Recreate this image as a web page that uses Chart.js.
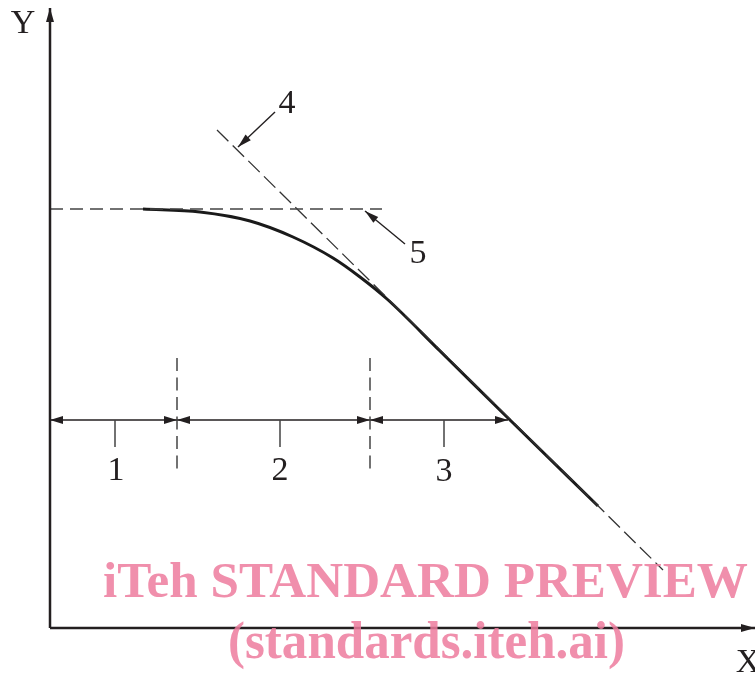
<!DOCTYPE html>
<html>
<head>
<meta charset="utf-8">
<script src="https://cdn.jsdelivr.net/npm/chart.js@4"></script>
<style>
  html, body { margin: 0; padding: 0; background: #fff; }
  #wrap { width: 755px; height: 676px; }
</style>
</head>
<body>
<div id="wrap"><canvas id="chart" width="755" height="676"></canvas></div>
<script>
// Data (arbitrary units, origin at the axes corner)
const curveX = [93, 150, 200, 243, 283, 310, 337, 390, 460, 548];
const curveY = [419, 416, 407, 391, 370, 351, 329, 277, 208, 122];

const tangentX = [167, 613];          // line 4
const tangentY = [498, 58];
const plateauX = [0, 332];            // line 5
const plateauY = [419, 419];

const boundX = [127, 320];            // region boundaries
const boundY = [270, 155];

const dimY = 208;                     // dimension line level
const dimX = [0, 127, 320, 458];      // region 1 | 2 | 3
const tickX = [65, 230, 394];
const tickY = [208, 181];

const leader4 = { x: [225, 188], y: [516, 481] };
const leader5 = { x: [355, 315], y: [384, 417] };

const axisXMax = 705;
const axisYMax = 620;

const labels = [
  { text: 'Y', x: -27, y: 595 },
  { text: '4', x: 237, y: 515 },
  { text: '5', x: 368, y: 365 },
  { text: '1', x: 66, y: 148 },
  { text: '2', x: 230, y: 148 },
  { text: '3', x: 394, y: 147 },
  { text: 'X', x: 698, y: -44 }
];

const INK = '#231f20';

function pts(xs, ys) {
  return xs.map((x, i) => ({ x: x, y: ys[i] }));
}

function lineSet(data, opts) {
  return Object.assign({
    data: data,
    borderColor: INK,
    borderWidth: 1.5,
    pointRadius: 0,
    fill: false,
    clip: false,
    tension: 0
  }, opts);
}

const datasets = [
  // axes
  lineSet(pts([0, 0], [0, axisYMax]), { borderWidth: 2.5, arrows: 'end', arrowLen: 14, arrowHalf: 4 }),
  lineSet(pts([0, axisXMax], [0, 0]), { borderWidth: 2.5, arrows: 'end', arrowLen: 14, arrowHalf: 4 }),
  // dashed construction lines
  lineSet(pts(plateauX, plateauY), { borderColor: '#444', borderWidth: 1.6, borderDash: [13, 7] }),
  lineSet(pts(tangentX, tangentY), { borderColor: '#333', borderWidth: 1.3, borderDash: [16, 6] }),
  lineSet(pts([boundX[0], boundX[0]], boundY), { borderColor: '#444', borderWidth: 1.5, borderDash: [13, 6.5] }),
  lineSet(pts([boundX[1], boundX[1]], boundY), { borderColor: '#444', borderWidth: 1.5, borderDash: [13, 6.5] }),
  // curve
  lineSet(pts(curveX, curveY), { borderColor: '#1a1a1a', borderWidth: 3, cubicInterpolationMode: 'monotone' }),
  // ticks
  ...tickX.map(x => lineSet(pts([x, x], tickY), { borderColor: '#444', borderWidth: 1.5 })),
  // leader arrows
  lineSet(pts(leader4.x, leader4.y), { borderWidth: 1.4, arrows: 'end', arrowLen: 14, arrowHalf: 3.8 }),
  lineSet(pts(leader5.x, leader5.y), { borderWidth: 1.4, arrows: 'end', arrowLen: 14, arrowHalf: 3.8 })
];

// dimension segments with arrowheads on both ends
for (let i = 0; i < dimX.length - 1; i++) {
  datasets.push(lineSet(pts([dimX[i], dimX[i + 1]], [dimY, dimY]),
    { borderWidth: 1.5, arrows: 'both', arrowLen: 13, arrowHalf: 4 }));
}

function drawHead(ctx, tip, from, len, half) {
  const a = Math.atan2(tip.y - from.y, tip.x - from.x);
  ctx.save();
  ctx.translate(tip.x, tip.y);
  ctx.rotate(a);
  ctx.beginPath();
  ctx.moveTo(0, 0);
  ctx.lineTo(-len, -half);
  ctx.lineTo(-len, half);
  ctx.closePath();
  ctx.fillStyle = INK;
  ctx.fill();
  ctx.restore();
}

const arrowPlugin = {
  id: 'arrows',
  afterDatasetsDraw(chart) {
    const ctx = chart.ctx;
    chart.data.datasets.forEach((ds, i) => {
      if (!ds.arrows) return;
      const el = chart.getDatasetMeta(i).data;
      const a = el[0], b = el[el.length - 1];
      drawHead(ctx, b, a, ds.arrowLen, ds.arrowHalf);
      if (ds.arrows === 'both') drawHead(ctx, a, b, ds.arrowLen, ds.arrowHalf);
    });
  }
};

const labelPlugin = {
  id: 'labels',
  afterDatasetsDraw(chart) {
    const ctx = chart.ctx;
    const sx = chart.scales.x, sy = chart.scales.y;
    ctx.save();
    ctx.fillStyle = INK;
    ctx.font = '34px "Liberation Serif", "DejaVu Serif", serif';
    ctx.textAlign = 'center';
    ctx.textBaseline = 'alphabetic';
    labels.forEach(l => {
      ctx.fillText(l.text, sx.getPixelForValue(l.x), sy.getPixelForValue(l.y));
    });
    ctx.restore();
  }
};

// watermark overlay
function fitText(ctx, text, left, right, baseline) {
  const w = ctx.measureText(text).width;
  const k = (right - left) / w;
  ctx.save();
  ctx.translate(left, baseline);
  ctx.scale(k, 1);
  ctx.fillText(text, 0, 0);
  ctx.restore();
}

const watermarkPlugin = {
  id: 'watermark',
  afterDraw(chart) {
    const ctx = chart.ctx;
    ctx.save();
    ctx.fillStyle = 'rgba(237,123,157,0.85)';
    ctx.textAlign = 'left';
    ctx.font = 'bold 51px "Liberation Serif", serif';
    fitText(ctx, 'iTeh STANDARD PREVIEW', 103, 748, 597);
    ctx.font = 'bold 52px "Liberation Serif", serif';
    fitText(ctx, '(standards.iteh.ai)', 228, 625, 658);
    ctx.restore();
  }
};

new Chart(document.getElementById('chart'), {
  type: 'line',
  data: { datasets: datasets },
  options: {
    responsive: false,
    animation: false,
    parsing: true,
    layout: { padding: { left: 50, right: 0, top: 10, bottom: 48 } },
    plugins: { legend: { display: false }, tooltip: { enabled: false } },
    scales: {
      x: { type: 'linear', min: 0, max: 705, display: false },
      y: { type: 'linear', min: 0, max: 618, display: false }
    }
  },
  plugins: [arrowPlugin, labelPlugin, watermarkPlugin]
});
</script>
</body>
</html>
